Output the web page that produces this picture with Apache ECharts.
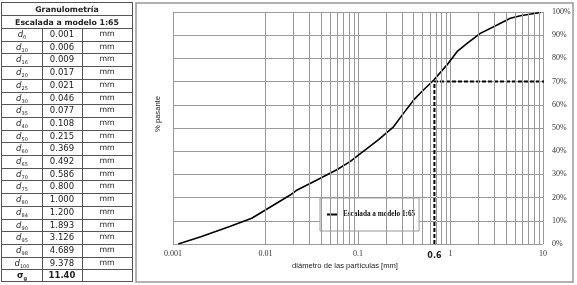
<!DOCTYPE html>
<html>
<head>
<meta charset="utf-8">
<script src="https://cdn.jsdelivr.net/npm/echarts@6/dist/echarts.min.js"></script>
<style>
  html, body { margin: 0; padding: 0; background: #fff; }
  #chart { position: absolute; left: 0; top: 0; width: 577px; height: 285px; }
  #tbl { position: absolute; left: 1px; top: 2px; width: 132px; height: 280px; box-sizing: border-box;
         border: 1px solid #555; font-family: "DejaVu Sans", Verdana, sans-serif; font-size: 8.5px; color: #222; }
  #tbl .hl { position: absolute; left: 0; right: 0; height: 0; border-top: 1px solid #555; }
  #tbl .vl { position: absolute; width: 0; border-left: 1px solid #555; bottom: 0; }
  #tbl .c { position: absolute; text-align: center; white-space: nowrap; }
  #tbl .b { font-weight: bold; }
  #tbl .hd { font-weight: bold; font-size: 7.8px; }
  #tbl .u { font-size: 7.8px; }
  #tbl .lab { font-style: italic; }
  #tbl sub { font-size: 5px; vertical-align: -2px; font-style: normal; }
</style>
</head>
<body>
<div id="chart"></div>
<div id="tbl"></div>
<script>
// ---- table data ----
const tableTitle = 'Granulometría';
const tableSubtitle = 'Escalada a modelo 1:65';
const tableSubs = ['0','10','16','20','25','30','35','40','50','60','65','70','75','80','84','90','95','98','100'];
const tableValues = ['0.001','0.006','0.009','0.017','0.021','0.046','0.077','0.108','0.215','0.369','0.492','0.586','0.800','1.000','1.200','1.893','3.126','4.689','9.378'];
const tableUnit = 'mm';
const sigmaLabel = 'σ';
const sigmaSub = 'g';
const sigmaValue = '11.40';

// ---- chart data ----
const seriesName = 'Escalada a modelo 1:65';
const curveX = [0.00114, 0.002, 0.0041, 0.0071, 0.0185, 0.022, 0.036, 0.059, 0.082, 0.106, 0.141, 0.167, 0.242, 0.31, 0.40, 0.51, 0.656, 0.916, 1.175, 1.51, 2.1, 3.19, 4.43, 5.69, 9.4];
const curveY = [0, 3.1, 7.5, 11.1, 21.1, 23.3, 27.6, 32, 35.5, 39, 42.7, 45, 50.5, 56.3, 62.1, 66.4, 70.6, 77.2, 82.9, 86.5, 90.8, 94.4, 97.3, 98.4, 99.8];
const refX = [0.67, 0.67, 11.7];
const refY = [0, 70, 70];
const refLabel = '0.6';
const xTickLabels = ['0.001', '0.01', '0.1', '1', '10'];
const yTickLabels = ['0%','10%','20%','30%','40%','50%','60%','70%','80%','90%','100%'];
const minorGridX = [0.002,0.003,0.004,0.005,0.006,0.007,0.008,0.009,
                    0.02,0.03,0.04,0.05,0.06,0.07,0.08,0.09,
                    0.2,0.3,0.4,0.5,0.6,0.7,0.8,0.9,
                    2,3,4,5,6,7,8,9];
const xName = 'diámetro de las partículas [mm]';
const yName = '% pasante';

// ---- build table (layout only) ----
(function () {
  const t = document.getElementById('tbl');
  const W = 130, headH = 13, rowH = 12.7, col1 = 40, col2 = 80;
  let h = '';
  const cell = (x, y, w, hh, content, cls) =>
    '<div class="c ' + (cls || '') + '" style="left:' + x + 'px;top:' + y + 'px;width:' + w + 'px;height:' + hh + 'px;line-height:' + hh + 'px">' + content + '</div>';
  h += cell(0, -0.5, W, headH, tableTitle, 'hd');
  h += '<div class="hl" style="top:' + (headH - 1) + 'px"></div>';
  h += cell(0, headH - 0.5, W, headH, tableSubtitle, 'hd');
  h += '<div class="hl" style="top:' + (2 * headH - 1) + 'px"></div>';
  const y0 = 2 * headH - 1;
  const rows = tableSubs.map((s, i) => ['d<sub>' + s + '</sub>', tableValues[i], tableUnit, false]);
  rows.push([sigmaLabel + '<sub>' + sigmaSub + '</sub>', sigmaValue, '', true]);
  rows.forEach((r, i) => {
    const y = y0 + i * rowH;
    if (i > 0) h += '<div class="hl" style="top:' + y.toFixed(1) + 'px"></div>';
    h += cell(0, y, col1, rowH, r[0], r[3] ? 'b' : 'lab');
    h += cell(col1, y, col2 - col1, rowH, r[1], r[3] ? 'b' : '');
    h += cell(col2, y, W - col2, rowH, r[2], 'u');
  });
  h += '<div class="vl" style="left:' + (col1 - 0.5) + 'px;top:' + y0 + 'px"></div>';
  h += '<div class="vl" style="left:' + (col2 - 0.5) + 'px;top:' + y0 + 'px"></div>';
  t.innerHTML = h;
})();

const chart = echarts.init(document.getElementById('chart'), null, { renderer: 'canvas' });
const serif = '"Liberation Serif", "Times New Roman", serif';
const sans = '"Liberation Sans", Arial, sans-serif';
const gridColor = '#9a9a9a';

chart.setOption({
  animation: false,
  backgroundColor: '#fff',
  grid: { left: 173, right: 34, top: 12, bottom: 41, containLabel: false },
  xAxis: {
    type: 'log', logBase: 10, min: 0.001, max: 10,
    axisLine: { show: false }, axisTick: { show: false },
    splitLine: { show: true, lineStyle: { color: gridColor, width: 1 } },
    axisLabel: {
      margin: 6, fontFamily: serif, fontSize: 8, color: '#333',
      formatter: v => xTickLabels[Math.round(Math.log10(v)) + 3]
    }
  },
  yAxis: {
    type: 'value', min: 0, max: 100, interval: 10, position: 'right',
    axisLine: { show: false }, axisTick: { show: false },
    splitLine: { show: true, lineStyle: { color: gridColor, width: 1 } },
    axisLabel: {
      margin: 9, fontFamily: serif, fontSize: 8, color: '#333',
      formatter: v => yTickLabels[Math.round(v / 10)]
    }
  },
  legend: {
    data: [seriesName],
    left: 320, top: 198,
    orient: 'horizontal',
    icon: 'rect', itemWidth: 11, itemHeight: 2, itemGap: 0,
    padding: [13, 4, 13, 7],
    backgroundColor: '#fff', borderColor: '#999', borderWidth: 1,
    textStyle: { fontFamily: serif, fontSize: 7.2, fontWeight: 'bold', color: '#111' }
  },
  graphic: [
    { type: 'rect', shape: { x: 136, y: 3, width: 437, height: 279 }, style: { fill: 'none', stroke: '#999', lineWidth: 1.5 }, z: -1, silent: true },
    { type: 'text', x: 345, y: 266, style: { text: xName, font: '7.6px ' + sans, fill: '#222', align: 'center', verticalAlign: 'middle' } },
    { type: 'text', x: 158, y: 114, rotation: Math.PI / 2, style: { text: yName, font: '7.6px ' + sans, fill: '#222', align: 'center', verticalAlign: 'middle' } }
  ],
  series: [
    {
      name: 'minorGrid', type: 'line', z: 1, data: [[0.001, 0]], symbol: 'none', lineStyle: { opacity: 0 },
      markLine: {
        silent: true, symbol: ['none', 'none'], label: { show: false },
        lineStyle: { color: gridColor, type: 'solid', width: 1 },
        data: minorGridX.map(v => ({ xAxis: v }))
      }
    },
    {
      name: seriesName, type: 'line', z: 3, symbol: 'none', smooth: false,
      lineStyle: { color: '#000', width: 1.6 }, itemStyle: { color: '#000' },
      data: curveX.map((x, i) => [x, curveY[i]])
    },
    {
      name: 'ref', type: 'line', z: 4, symbol: 'none', clip: false,
      lineStyle: { color: '#000', width: 2, type: [4, 2] },
      data: refX.map((x, i) => [x, refY[i]]),
      markPoint: {
        symbol: 'rect', symbolSize: 0,
        data: [{ coord: [refX[0], refY[0]] }],
        label: { show: true, formatter: refLabel, position: 'inside', offset: [0, 12],
                 fontFamily: '"DejaVu Sans", Verdana, sans-serif', fontWeight: 'bold', fontSize: 8, color: '#222' }
      }
    }
  ]
});
</script>
</body>
</html>
